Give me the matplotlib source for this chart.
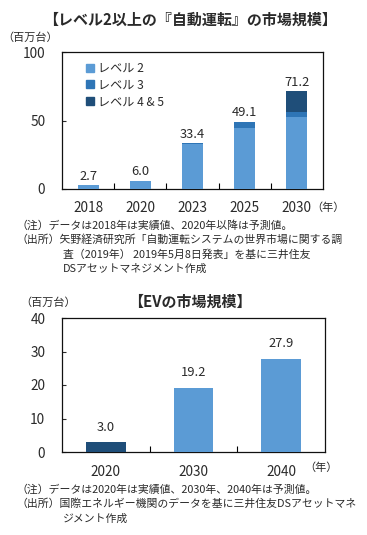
import numpy as np
import matplotlib
matplotlib.use("Agg")
import matplotlib.pyplot as plt
from matplotlib.lines import Line2D

plt.rcParams['font.family'] = ['Noto Sans CJK JP', 'DejaVu Sans']

W, H = 367, 535

# top chart: level 2+ autonomous driving market
years_ad = ["2018", "2020", "2023", "2025", "2030"]
level2 = [2.7, 6.0, 33.0, 44.4, 52.7]
level3 = [0.0, 0.0, 0.4, 4.6, 3.6]
level45 = [0.0, 0.0, 0.0, 0.1, 14.9]
totals_ad = [2.7, 6.0, 33.4, 49.1, 71.2]
series_names = ["レベル 2", "レベル 3", "レベル 4 & 5"]

# bottom chart: EV market
years_ev = ["2020", "2030", "2040"]
ev_vals = [3.0, 19.2, 27.9]

C_L2 = "#5b9bd5"
C_L3 = "#2e75b6"
C_L45 = "#1f4e79"
TXT = "#2a2a2a"


def box(l, t, r, b):
    return [l / W, 1 - b / H, (r - l) / W, (b - t) / H]


def ftext(x, y, s, **kw):
    fig.text(x / W, 1 - y / H, s, **kw)


def style_axes(ax, n):
    ax.set_xlim(-0.5, n - 0.5)
    ax.set_xticks(range(n))
    ax.set_xticks(np.arange(0.5, n - 1, 1.0), minor=True)
    ax.tick_params(axis='x', which='major', length=0, labelsize=9.8, pad=9, colors=TXT)
    ax.tick_params(axis='x', which='minor', length=4, direction='in', width=0.8)
    ax.tick_params(axis='y', length=3, direction='in', labelsize=9.8, colors=TXT, pad=12)
    for s in ax.spines.values():
        s.set_linewidth(0.9)
        s.set_color("#111111")


fig = plt.figure(figsize=(W / 100, H / 100), dpi=100)

# ---- top chart
ax1 = fig.add_axes(box(62, 52, 323, 189))
x = np.arange(len(years_ad))
bw = 0.4
ax1.bar(x, level2, bw, color=C_L2, zorder=3)
ax1.bar(x, level3, bw, bottom=level2, color=C_L3, zorder=3)
b45 = np.array(level2) + np.array(level3)
ax1.bar(x, level45, bw, bottom=b45, color=C_L45, zorder=3)
for xi, t in zip(x, totals_ad):
    ax1.text(xi, t + 2, f"{t:.1f}", ha='center', va='bottom', fontsize=9.3, color=TXT)
ax1.set_ylim(0, 100)
ax1.set_yticks([0, 50, 100])
ax1.set_xticklabels(years_ad)
style_axes(ax1, len(years_ad))

handles = [Line2D([], [], marker='s', ls='', ms=6, color=c) for c in (C_L2, C_L3, C_L45)]
ax1.legend(handles, series_names, loc='upper left', bbox_to_anchor=(0.06, 0.98), frameon=False,
           fontsize=8.7, handlelength=0.8, handletextpad=0.3, labelspacing=0.3, borderaxespad=0.2,
           labelcolor=TXT)

ftext(190, 20, "【レベル2以上の『自動運転』の市場規模】", ha='center', va='center',
      fontsize=10.8, fontweight='bold', color=TXT)
ftext(2, 38, "（百万台）", ha='left', va='center', fontsize=8, color=TXT)
ftext(311, 208, "（年）", ha='left', va='center', fontsize=8, color=TXT)

notes1 = [
    (17, 225, "（注）データは2018年は実績値、2020年以降は予測値。"),
    (17, 240, "（出所）矢野経済研究所「自動運転システムの世界市場に関する調"),
    (63, 255, "査（2019年） 2019年5月8日発表」を基に三井住友"),
    (63, 269, "DSアセットマネジメント作成"),
]
for nx, ny, s in notes1:
    ftext(nx, ny, s, ha='left', va='center', fontsize=7.8, color=TXT)

# ---- bottom chart
ax2 = fig.add_axes(box(62, 318, 325, 452))
x2 = np.arange(len(years_ev))
ax2.bar(x2, ev_vals, 0.45, color=[C_L45, C_L2, C_L2], zorder=3)
for xi, v in zip(x2, ev_vals):
    ax2.text(xi, v + 2.5, f"{v:.1f}", ha='center', va='bottom', fontsize=9.3, color=TXT)
ax2.set_ylim(0, 40)
ax2.set_yticks([0, 10, 20, 30, 40])
ax2.set_xticklabels(years_ev)
style_axes(ax2, len(years_ev))

ftext(190, 302, "【EVの市場規模】", ha='center', va='center',
      fontsize=10.8, fontweight='bold', color=TXT)
ftext(20, 303, "（百万台）", ha='left', va='center', fontsize=8, color=TXT)
ftext(304, 468, "（年）", ha='left', va='center', fontsize=8, color=TXT)

notes2 = [
    (17, 490, "（注）データは2020年は実績値、2030年、2040年は予測値。"),
    (17, 504, "（出所）国際エネルギー機関のデータを基に三井住友DSアセットマネ"),
    (63, 519, "ジメント作成"),
]
for nx, ny, s in notes2:
    ftext(nx, ny, s, ha='left', va='center', fontsize=7.8, color=TXT)

fig.savefig("out.png", dpi=100, facecolor="white")
